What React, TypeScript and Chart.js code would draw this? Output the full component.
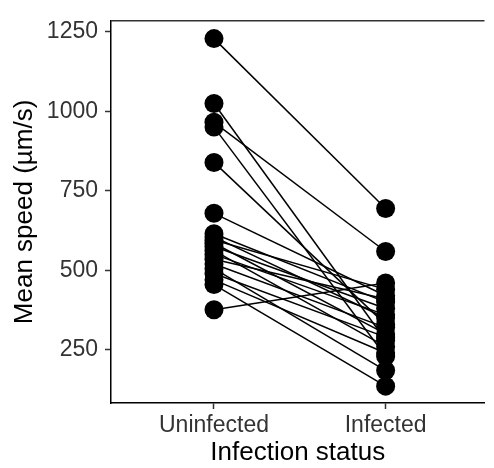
import React, { useEffect, useRef } from "react";
import { Chart, registerables } from "chart.js";
Chart.register(...registerables);

const categories = ["Uninfected", "Infected"];
const uninfected = [1228, 1024, 965, 950, 839, 679, 615, 605, 595, 585, 575, 562, 550, 535, 520, 505, 490, 470, 455, 376];
const infected = [694, 280, 559, 230, 330, 420, 400, 350, 440, 300, 380, 260, 360, 410, 320, 185, 290, 240, 136, 460];
const yTicks = [250, 500, 750, 1000, 1250];
const xTitle = "Infection status";
const yTitle = "Mean speed (µm/s)";

const FONT = "'Liberation Sans', Arial, Helvetica, sans-serif";

export default function App() {
  const ref = useRef<HTMLCanvasElement>(null);
  useEffect(() => {
    document.body.style.margin = "0";
    const datasets = uninfected.map((u, i) => ({
      data: [
        { x: 1, y: u },
        { x: 2, y: infected[i] },
      ],
      showLine: true,
      borderColor: "#000",
      borderWidth: 1.5,
      pointRadius: 9.5,
      pointBackgroundColor: "#000",
      pointBorderColor: "#000",
      pointBorderWidth: 0,
    }));
    const topBorder = {
      id: "topBorder",
      afterDraw(chart: any) {
        const { ctx, chartArea } = chart;
        ctx.save();
        ctx.strokeStyle = "#333";
        ctx.lineWidth = 1.5;
        ctx.beginPath();
        ctx.moveTo(chartArea.left, chartArea.top);
        ctx.lineTo(chartArea.right, chartArea.top);
        ctx.stroke();
        ctx.restore();
      },
    };
    const chart = new Chart(ref.current as HTMLCanvasElement, {
      type: "scatter",
      data: { datasets: datasets as any },
      options: {
        animation: false,
        responsive: false,
        layout: { padding: { top: 14, right: 0, bottom: 0, left: 0 } },
        plugins: { legend: { display: false }, tooltip: { enabled: false } },
        scales: {
          x: {
            type: "linear",
            min: 0.4,
            max: 2.576,
            afterBuildTicks: (s: any) => {
              s.ticks = [{ value: 1 }, { value: 2 }];
            },
            afterFit: (s: any) => {
              s.height = 65;
            },
            ticks: {
              callback: (v: any) => categories[Math.round(Number(v)) - 1] ?? "",
              font: { family: FONT, size: 23 },
              color: "#333",
              padding: 3,
              maxRotation: 0,
              autoSkip: false,
            },
            grid: { drawOnChartArea: false, drawTicks: true, tickLength: 6, tickColor: "#333", tickWidth: 1.5 },
            border: { color: "#000", width: 1.5 },
            title: {
              display: true,
              text: xTitle,
              font: { family: FONT, size: 26 },
              color: "#000",
              padding: { top: 0, bottom: 0 },
            },
          },
          y: {
            type: "linear",
            min: 83,
            max: 1284,
            afterBuildTicks: (s: any) => {
              s.ticks = yTicks.map((v) => ({ value: v }));
            },
            afterFit: (s: any) => {
              s.width = 111;
            },
            ticks: {
              callback: (v: any) => String(v),
              font: { family: FONT, size: 23 },
              color: "#333",
              padding: 7,
              autoSkip: false,
            },
            grid: { drawOnChartArea: false, drawTicks: true, tickLength: 6, tickColor: "#333", tickWidth: 1.5 },
            border: { color: "#000", width: 1.5 },
            title: {
              display: true,
              text: yTitle,
              font: { family: FONT, size: 26 },
              color: "#000",
              padding: { top: 9, bottom: 0 },
            },
          },
        },
      },
      plugins: [topBorder],
    });
    return () => chart.destroy();
  }, []);
  return (
    <div style={{ width: 494, height: 468 }}>
      <canvas ref={ref} width={494} height={468} />
    </div>
  );
}
